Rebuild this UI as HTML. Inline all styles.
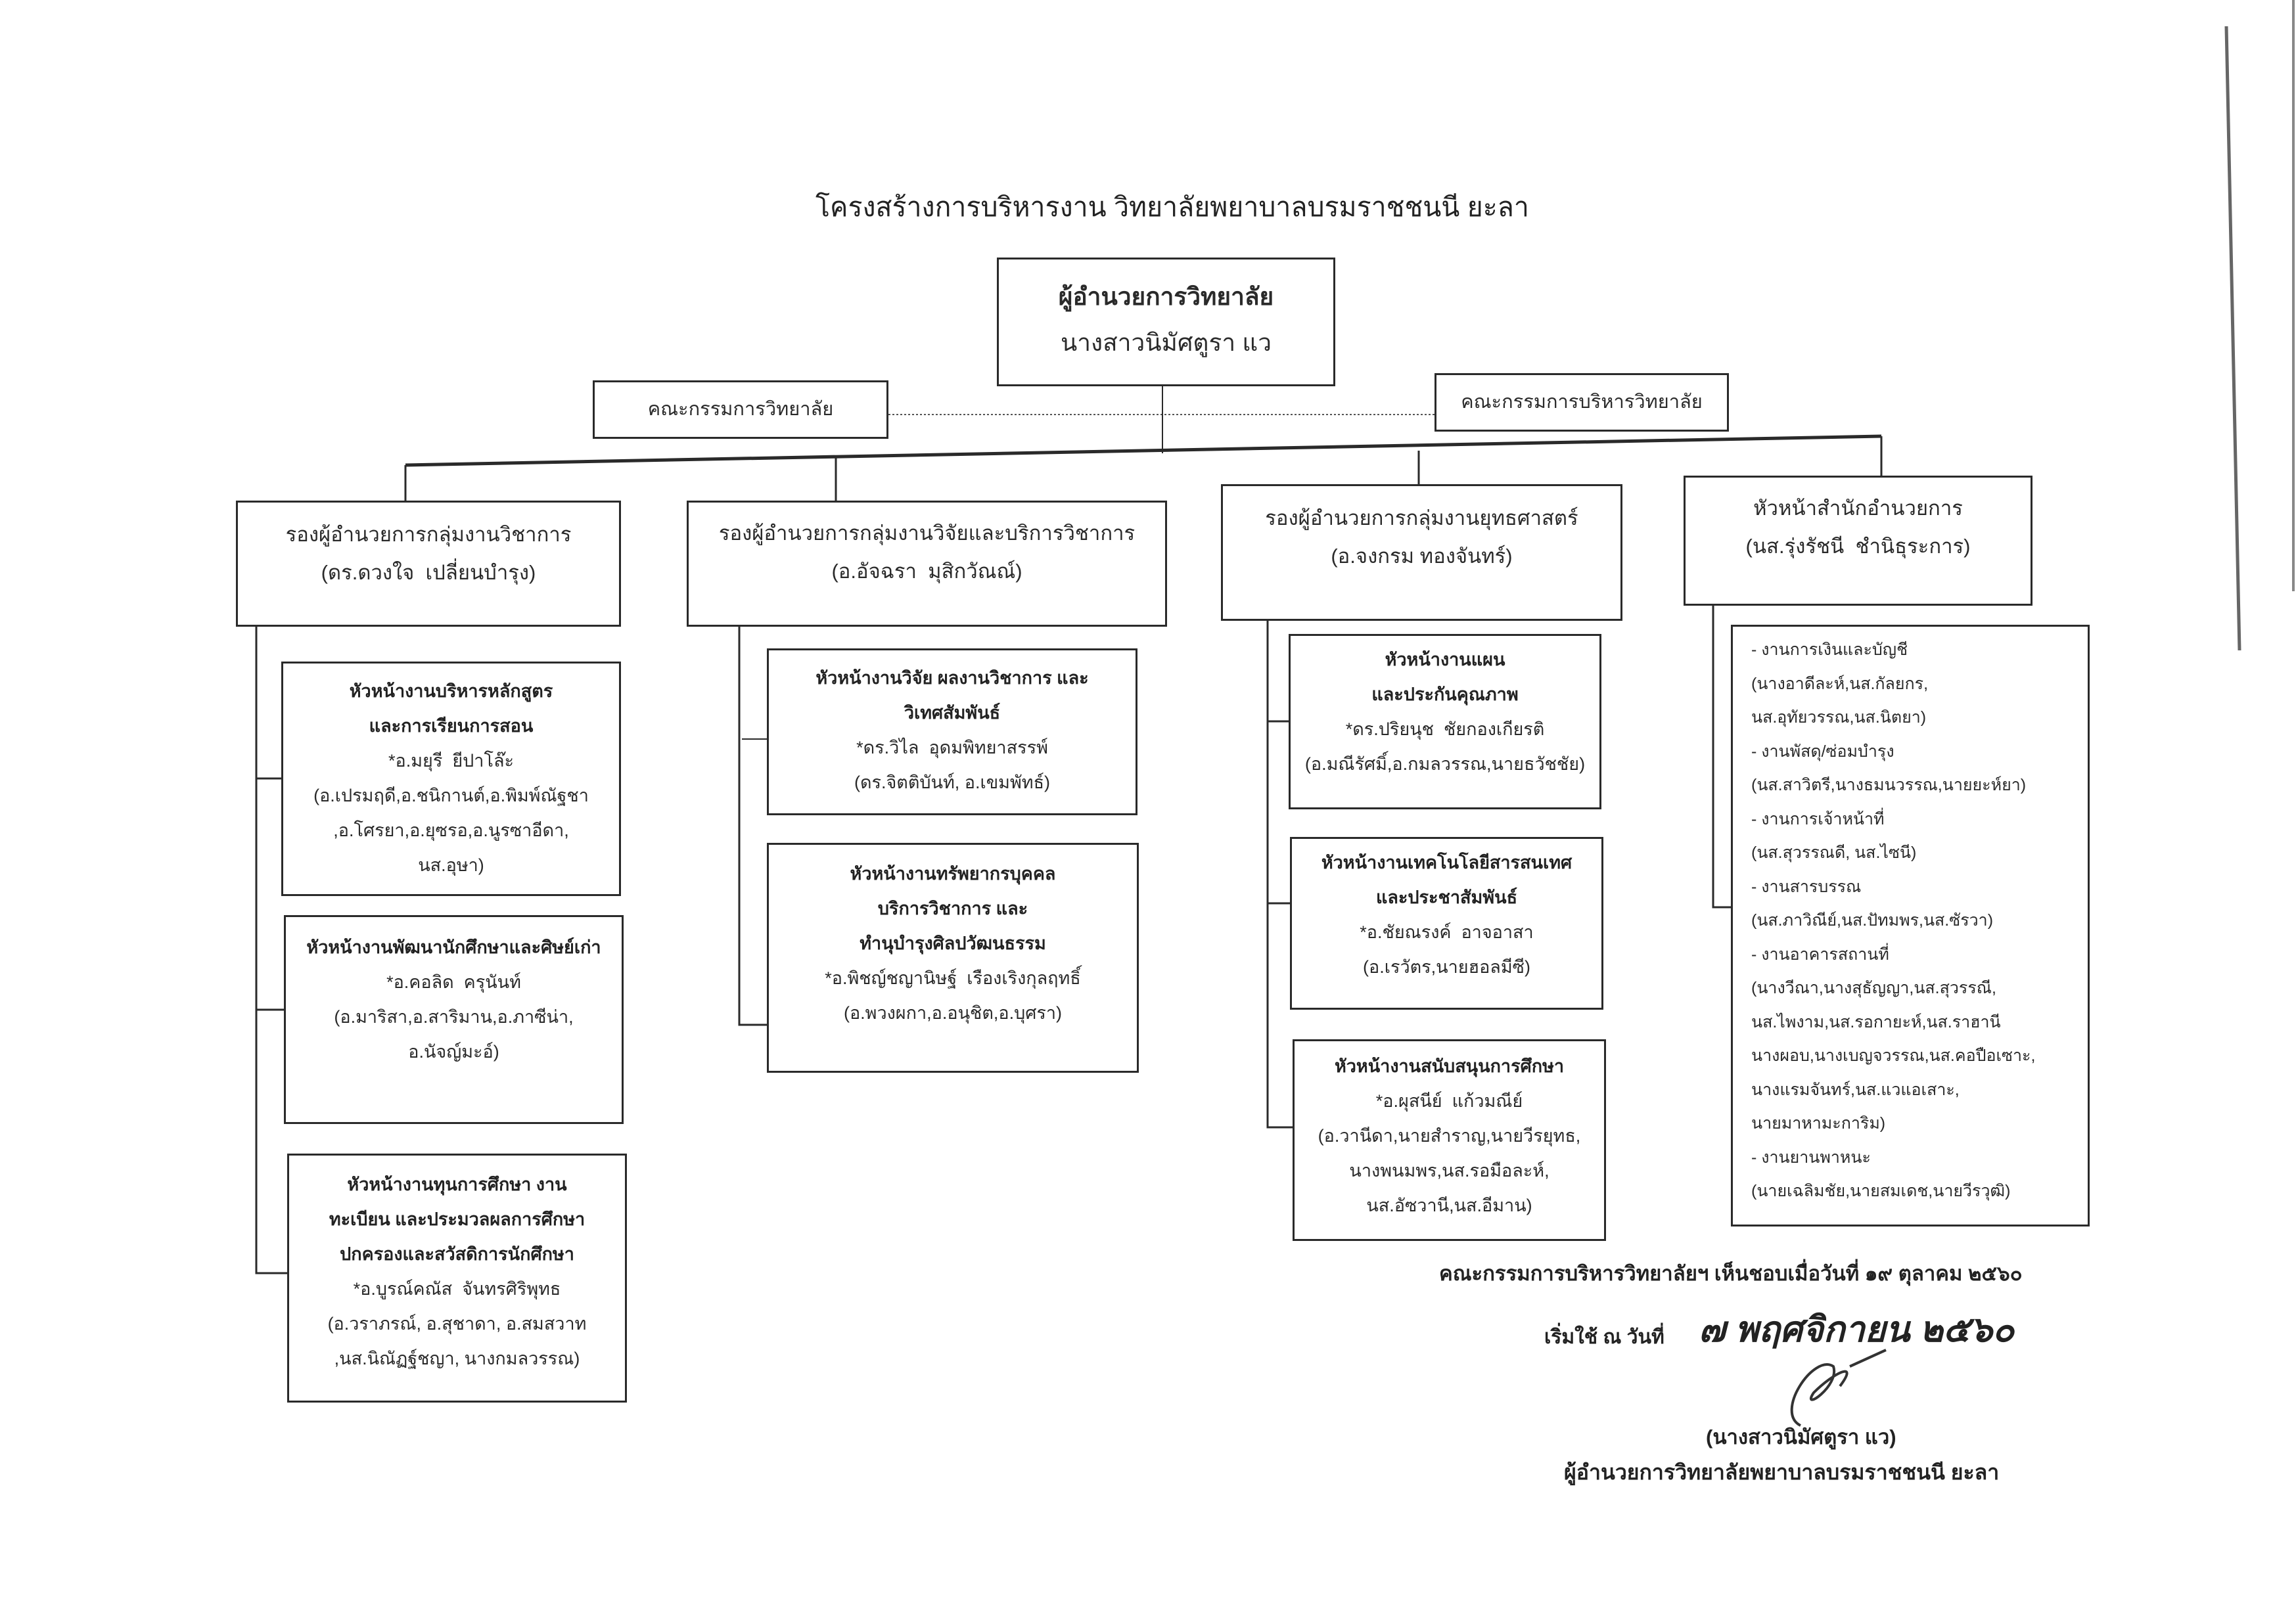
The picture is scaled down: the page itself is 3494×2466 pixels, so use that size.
<!DOCTYPE html>
<html><head><meta charset="utf-8">
<style>
html,body{margin:0;padding:0;background:#fff;}
body{width:3494px;height:2466px;position:relative;overflow:hidden;font-family:"Liberation Sans","Noto Sans CJK SC",sans-serif;color:#2a2a2a;}
.b{position:absolute;border:3px solid #2a2a2a;box-sizing:border-box;text-align:center;}
.t{position:absolute;white-space:nowrap;}
.h{font-weight:bold;color:#222;}
.s{font-size:27px;line-height:53px;}
.m{font-size:31px;line-height:58px;}
</style></head><body>
<svg width="3494" height="2466" style="position:absolute;left:0;top:0" xmlns="http://www.w3.org/2000/svg">
<g stroke="#2a2a2a" fill="none">
<line x1="3388" y1="40" x2="3408" y2="990" stroke-width="5" stroke="#666"/>
<line x1="3490" y1="0" x2="3490" y2="900" stroke-width="4" stroke="#888"/>
<line x1="1352" y1="631" x2="2183" y2="631" stroke-width="2" stroke-dasharray="3,3" stroke="#555"/>
<line x1="1769" y1="588" x2="1769" y2="690" stroke-width="2"/>
<line x1="617" y1="708" x2="2863" y2="664" stroke-width="5"/>
<line x1="617" y1="708" x2="617" y2="762" stroke-width="3"/>
<line x1="1272" y1="695" x2="1272" y2="762" stroke-width="3"/>
<line x1="2159" y1="686" x2="2159" y2="737" stroke-width="3"/>
<line x1="2863" y1="664" x2="2863" y2="724" stroke-width="3"/>
<polyline points="390,954 390,1938 437,1938" stroke-width="3"/>
<line x1="390" y1="1185" x2="428" y2="1185" stroke-width="3"/>
<line x1="390" y1="1537" x2="432" y2="1537" stroke-width="3"/>
<polyline points="1125,954 1125,1560 1167,1560" stroke-width="3"/>
<line x1="1129" y1="1125" x2="1167" y2="1125" stroke-width="2"/>
<polyline points="1929,945 1929,1716 1967,1716" stroke-width="3"/>
<line x1="1929" y1="1098" x2="1961" y2="1098" stroke-width="3"/>
<line x1="1929" y1="1375" x2="1963" y2="1375" stroke-width="3"/>
<polyline points="2607,922 2607,1381 2634,1381" stroke-width="3"/>
</g>
<path d="M2740,2170 C2700,2150 2760,2060 2790,2080 C2800,2110 2740,2150 2760,2120 C2790,2090 2830,2070 2800,2110 M2815,2080 L2870,2055" stroke="#333" stroke-width="4" fill="none"/>
</svg>

<div class="t h" style="left:1241px;top:283px;font-size:41px;font-weight:normal;color:#222;">โครงสร้างการบริหารงาน วิทยาลัยพยาบาลบรมราชชนนี ยะลา</div>

<div class="b" style="left:1517px;top:392px;width:515px;height:196px;padding-top:22px;font-size:37px;line-height:70px;"><b>ผู้อำนวยการวิทยาลัย</b><br>นางสาวนิมัศตูรา แว</div>
<div class="b" style="left:902px;top:579px;width:450px;height:89px;font-size:29px;line-height:83px;">คณะกรรมการวิทยาลัย</div>
<div class="b" style="left:2183px;top:568px;width:448px;height:89px;font-size:29px;line-height:83px;">คณะกรรมการบริหารวิทยาลัย</div>

<div class="b m" style="left:359px;top:762px;width:586px;height:192px;padding-top:20px;">รองผู้อำนวยการกลุ่มงานวิชาการ<br>(ดร.ดวงใจ &nbsp;เปลี่ยนบำรุง)</div>
<div class="b m" style="left:1045px;top:762px;width:731px;height:192px;padding-top:18px;">รองผู้อำนวยการกลุ่มงานวิจัยและบริการวิชาการ<br>(อ.อัจฉรา &nbsp;มุสิกวัณณ์)</div>
<div class="b m" style="left:1858px;top:737px;width:611px;height:208px;padding-top:20px;">รองผู้อำนวยการกลุ่มงานยุทธศาสตร์<br>(อ.จงกรม ทองจันทร์)</div>
<div class="b m" style="left:2562px;top:724px;width:531px;height:198px;padding-top:18px;">หัวหน้าสำนักอำนวยการ<br>(นส.รุ่งรัชนี &nbsp;ชำนิธุระการ)</div>

<div class="b s" style="left:428px;top:1007px;width:517px;height:357px;padding-top:16px;"><span class="h">หัวหน้างานบริหารหลักสูตร<br>และการเรียนการสอน</span><br>*อ.มยุรี &nbsp;ยีปาโล๊ะ<br>(อ.เปรมฤดี,อ.ชนิกานต์,อ.พิมพ์ณัฐชา<br>,อ.โศรยา,อ.ยุซรอ,อ.นูรซาอีดา,<br>นส.อุษา)</div>
<div class="b s" style="left:432px;top:1393px;width:517px;height:318px;padding-top:20px;"><span class="h">หัวหน้างานพัฒนานักศึกษาและศิษย์เก่า</span><br>*อ.คอลิด &nbsp;ครุนันท์<br>(อ.มาริสา,อ.สาริมาน,อ.ภาซีน่า,<br>อ.นัจญ์มะอ์)</div>
<div class="b s" style="left:437px;top:1756px;width:517px;height:379px;padding-top:18px;"><span class="h">หัวหน้างานทุนการศึกษา งาน<br>ทะเบียน และประมวลผลการศึกษา<br>ปกครองและสวัสดิการนักศึกษา</span><br>*อ.บูรณ์คณัส &nbsp;จันทรศิริพุทธ<br>(อ.วราภรณ์, อ.สุชาดา, อ.สมสวาท<br>,นส.นิณัฏฐ์ชญา, นางกมลวรรณ)</div>

<div class="b s" style="left:1167px;top:987px;width:564px;height:254px;padding-top:16px;"><span class="h">หัวหน้างานวิจัย ผลงานวิชาการ และ<br>วิเทศสัมพันธ์</span><br>*ดร.วิไล &nbsp;อุดมพิทยาสรรพ์<br>(ดร.จิตติบันท์, อ.เขมพัทธ์)</div>
<div class="b s" style="left:1167px;top:1283px;width:566px;height:350px;padding-top:18px;"><span class="h">หัวหน้างานทรัพยากรบุคคล<br>บริการวิชาการ และ<br>ทำนุบำรุงศิลปวัฒนธรรม</span><br>*อ.พิชญ์ชญานิษฐ์ &nbsp;เรืองเริงกุลฤทธิ์<br>(อ.พวงผกา,อ.อนุชิต,อ.บุศรา)</div>

<div class="b s" style="left:1961px;top:965px;width:476px;height:267px;padding-top:10px;"><span class="h">หัวหน้างานแผน<br>และประกันคุณภาพ</span><br>*ดร.ปริยนุช &nbsp;ชัยกองเกียรติ<br>(อ.มณีรัศมิ์,อ.กมลวรรณ,นายธวัชชัย)</div>
<div class="b s" style="left:1963px;top:1274px;width:477px;height:263px;padding-top:10px;"><span class="h">หัวหน้างานเทคโนโลยีสารสนเทศ<br>และประชาสัมพันธ์</span><br>*อ.ชัยณรงค์ &nbsp;อาจอาสา<br>(อ.เรวัตร,นายฮอลมีซี)</div>
<div class="b s" style="left:1967px;top:1582px;width:477px;height:307px;padding-top:12px;"><span class="h">หัวหน้างานสนับสนุนการศึกษา</span><br>*อ.ผุสนีย์ &nbsp;แก้วมณีย์<br>(อ.วานีดา,นายสำราญ,นายวีรยุทธ,<br>นางพนมพร,นส.รอมือละห์,<br>นส.อัซวานี,นส.อีมาน)</div>

<div class="b" style="left:2634px;top:951px;width:546px;height:916px;padding:10px 0 0 28px;text-align:left;font-size:25px;line-height:51.5px;">- งานการเงินและบัญชี<br>(นางอาดีละห์,นส.กัลยกร,<br>นส.อุทัยวรรณ,นส.นิตยา)<br>- งานพัสดุ/ซ่อมบำรุง<br>(นส.สาวิตรี,นางธมนวรรณ,นายยะห์ยา)<br>- งานการเจ้าหน้าที่<br>(นส.สุวรรณดี, นส.ไซนี)<br>- งานสารบรรณ<br>(นส.ภาวิณีย์,นส.ปัทมพร,นส.ซัรวา)<br>- งานอาคารสถานที่<br>(นางวีณา,นางสุธัญญา,นส.สุวรรณี,<br>นส.ไพงาม,นส.รอกายะห์,นส.ราฮานี<br>นางผอบ,นางเบญจวรรณ,นส.คอปือเซาะ,<br>นางแรมจันทร์,นส.แวแอเสาะ,<br>นายมาหามะการิม)<br>- งานยานพาหนะ<br>(นายเฉลิมชัย,นายสมเดช,นายวีรวุฒิ)</div>

<div class="t h" style="left:2190px;top:1913px;font-size:31px;">คณะกรรมการบริหารวิทยาลัยฯ เห็นชอบเมื่อวันที่ ๑๙ ตุลาคม ๒๕๖๐</div>
<div class="t h" style="left:2350px;top:2012px;font-size:30px;">เริ่มใช้ ณ วันที่</div>
<div class="t" style="left:2585px;top:1980px;font-size:54px;font-style:italic;font-weight:bold;color:#222;">๗ พฤศจิกายน ๒๕๖๐</div>
<div class="t h" style="left:2596px;top:2162px;font-size:31px;">(นางสาวนิมัศตูรา แว)</div>
<div class="t h" style="left:2380px;top:2216px;font-size:32px;">ผู้อำนวยการวิทยาลัยพยาบาลบรมราชชนนี ยะลา</div>
</body></html>
